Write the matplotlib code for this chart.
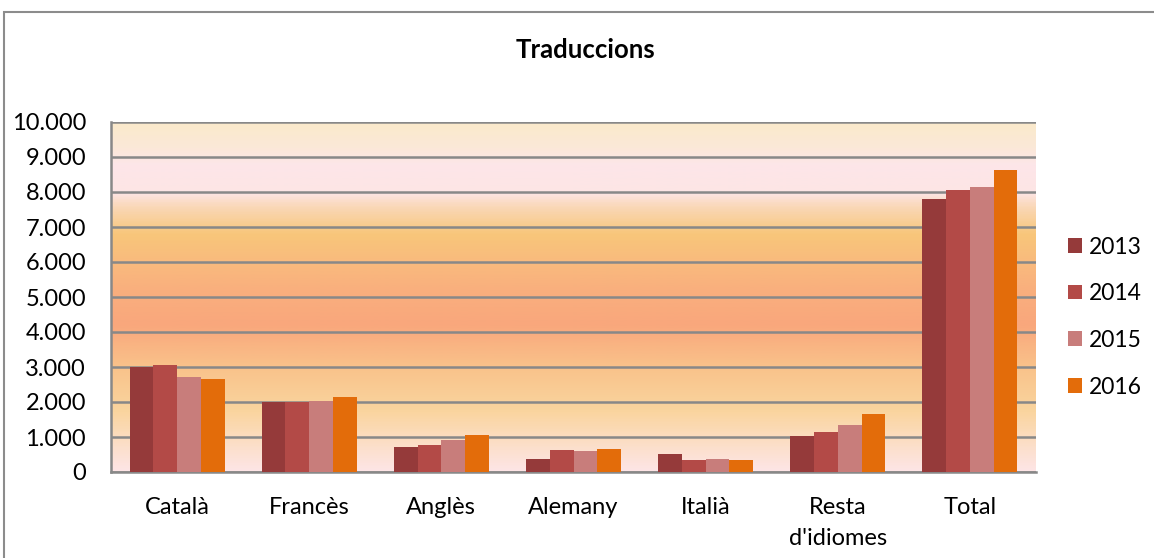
import numpy as np
import matplotlib
matplotlib.use("Agg")
from matplotlib import pyplot as plt
from matplotlib.colors import LinearSegmentedColormap
from matplotlib.patches import Rectangle
from matplotlib.ticker import FuncFormatter

plt.rcParams['font.family'] = ['Lato', 'DejaVu Sans']

# dades de traduccions per idioma i any
idiomes = ["Català", "Francès", "Anglès", "Alemany", "Italià", "Resta\nd'idiomes", "Total"]
anys = ["2013", "2014", "2015", "2016"]
v2013 = [3010, 2005, 715, 370, 525, 1030, 7810]
v2014 = [3055, 1990, 775, 620, 355, 1135, 8070]
v2015 = [2720, 2025, 925, 600, 365, 1345, 8145]
v2016 = [2645, 2140, 1060, 650, 335, 1660, 8615]
valors = [v2013, v2014, v2015, v2016]
colors = ["#953A3A", "#B34A47", "#C87D7B", "#E36C0A"]

W, H = 1154, 558
fig = plt.figure(figsize=(W / 100, H / 100), dpi=100)
# marc del grafic
fig.patches.append(Rectangle((4 / W, -0.1), 1.2, 1 - 12 / H + 0.1,
                             transform=fig.transFigure, fill=False,
                             edgecolor="#8c8c8c", linewidth=1.5))
ax = fig.add_axes([111 / W, 1 - 472 / H, 925 / W, 350 / H])

# fons degradat
stops = [(0.0, "#FEE5E6"), (0.06, "#FCE0CF"), (0.17, "#FAD59F"), (0.3, "#F9C28A"),
         (0.42, "#F9A77C"), (0.52, "#F9AF7E"), (0.61, "#F9BC7D"), (0.68, "#F8C67A"),
         (0.76, "#FAD8B8"), (0.8, "#FDE5E5"), (0.88, "#FDE6E9"), (0.93, "#FBE8D8"),
         (1.0, "#FAEACB")]
cmap = LinearSegmentedColormap.from_list("fons", stops)
grad = np.linspace(0, 1, 400).reshape(-1, 1)
ax.imshow(grad, cmap=cmap, aspect="auto", origin="lower",
          extent=[-0.5, len(idiomes) - 0.5, 0, 10000], zorder=0)

x = np.arange(len(idiomes))
w = 0.18
for i, (serie, c) in enumerate(zip(valors, colors)):
    ax.bar(x + (i - 1.5) * w, serie, w, color=c, label=anys[i], zorder=3)

ax.set_xlim(-0.5, len(idiomes) - 0.5)
ax.set_ylim(0, 10000)
ax.set_yticks(range(0, 10001, 1000))
ax.yaxis.set_major_formatter(FuncFormatter(lambda v, p: f"{int(v):,}".replace(",", ".")))
ax.set_xticks(x)
ax.set_xticklabels(idiomes, linespacing=1.6)
ax.tick_params(axis="both", labelsize=17, length=0)
ax.tick_params(axis="x", pad=18)
ax.tick_params(axis="y", pad=18)
ax.grid(axis="y", color="#888888", linewidth=1.8, zorder=1)
for s in ["top", "right"]:
    ax.spines[s].set_visible(False)
for s in ["left", "bottom"]:
    ax.spines[s].set_color("#888888")
    ax.spines[s].set_linewidth(1.8)

fig.text(586 / W, 1 - 50 / H, "Traduccions", fontsize=18.5, fontweight="bold",
         ha="center", va="center")
handles, labels = ax.get_legend_handles_labels()
fig.legend(handles, labels, loc="center left", bbox_to_anchor=(1068 / W, 1 - 317 / H),
           frameon=False, fontsize=16.5, handlelength=0.6, handleheight=0.6,
           labelspacing=1.12, handletextpad=0.3, borderaxespad=0, borderpad=0)

fig.savefig("out.png", dpi=100)
